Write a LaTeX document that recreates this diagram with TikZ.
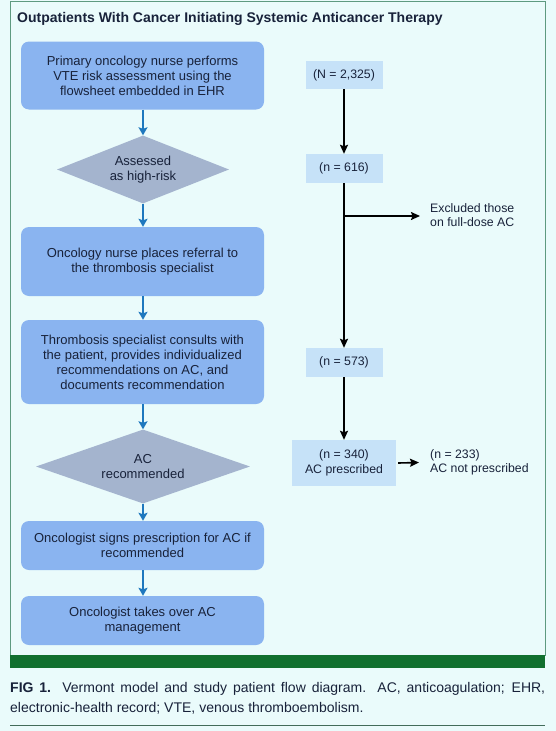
\documentclass[tikz,border=0pt]{standalone}
\usepackage{fontspec}
\setmainfont{Liberation Sans}
\usetikzlibrary{shapes.geometric,arrows.meta}
\definecolor{bgc}{HTML}{EAFBFB}
\definecolor{framec}{HTML}{5E9A80}
\definecolor{greenbar}{HTML}{11702F}
\definecolor{boxc}{HTML}{8AB4F0}
\definecolor{diac}{HTML}{A4B4CE}
\definecolor{nboxc}{HTML}{C6E2F8}
\definecolor{arrc}{HTML}{1E78BE}
\definecolor{txtc}{HTML}{18223A}
\tikzset{
  stepbox/.style={rectangle, rounded corners=8pt, fill=boxc, text=txtc, minimum width=243pt, align=center, inner sep=0pt, font=\fontsize{13}{15}\selectfont},
  decbox/.style={diamond, fill=diac, text=txtc, align=center, inner sep=0pt, font=\fontsize{13}{15}\selectfont},
  nbox/.style={rectangle, fill=nboxc, text=txtc, align=center, inner sep=0pt, font=\fontsize{12.3}{15}\selectfont},
  sidetxt/.style={text=txtc, align=left, anchor=west, inner sep=0pt, font=\fontsize{12.3}{14.5}\selectfont},
  bluearr/.style={draw=arrc, line width=1.6pt, -{Stealth[length=8pt,width=9pt,inset=1.5pt]}},
  blackarr/.style={draw=black, line width=1.6pt, -{Stealth[length=9pt,width=8pt,inset=1.5pt]}},
}
\begin{document}
\begin{tikzpicture}[x=1pt,y=-1pt]
\fill[bgc] (0,0) rectangle (556,731);
\useasboundingbox (0,0) rectangle (556,731);
\draw[framec, line width=1pt] (10,1) rectangle (545,655);
\fill[greenbar] (10,655) rectangle (545,668);
\draw[framec!70!black, line width=1pt] (10,725) -- (545,725);
\node[anchor=west, text=txtc, inner sep=0pt, font=\fontsize{14}{16}\selectfont\bfseries] (title) at (17,19) {Outpatients With Cancer Initiating Systemic Anticancer Therapy};

\node[stepbox, minimum height=68pt] (b1) at (142.5,75.5) {Primary oncology nurse performs\\VTE risk assessment using the\\flowsheet embedded in EHR};
\node[decbox, minimum width=172pt, minimum height=68pt, aspect=2.5] (d1) at (143,169.5) {Assessed\\as high-risk};
\node[stepbox, minimum height=69pt] (b2) at (142.5,261.5) {Oncology nurse places referral to\\the thrombosis specialist};
\node[stepbox, minimum height=84pt] (b3) at (142.5,362) {Thrombosis specialist consults with\\the patient, provides individualized\\recommendations on AC, and\\documents recommendation};
\node[decbox, minimum width=214pt, minimum height=74pt, aspect=2.9] (d2) at (143,466.5) {AC\\recommended};
\node[stepbox, minimum height=49pt] (b4) at (142.5,545.5) {Oncologist signs prescription for AC if\\recommended};
\node[stepbox, minimum height=49pt] (b5) at (142.5,620.5) {Oncologist takes over AC\\management};

\draw[bluearr] (b1.south -| 143,0) -- (d1.north);
\draw[bluearr] (d1.south) -- (b2.north -| 143,0);
\draw[bluearr] (b2.south -| 143,0) -- (b3.north -| 143,0);
\draw[bluearr] (b3.south -| 143,0) -- (d2.north);
\draw[bluearr] (d2.south) -- (b4.north -| 143,0);
\draw[bluearr] (b4.south -| 143,0) -- (b5.north -| 143,0);

\node[nbox, minimum width=77pt, minimum height=28pt] (n1) at (344,75) {(N = 2,325)};
\node[nbox, minimum width=77pt, minimum height=29pt] (n2) at (344,168.5) {(n = 616)};
\node[nbox, minimum width=77pt, minimum height=29pt] (n3) at (344,362.5) {(n = 573)};
\node[nbox, minimum width=104pt, minimum height=46pt] (n4) at (344,463) {(n = 340)\\AC prescribed};
\node[sidetxt] (ex) at (430,215) {Excluded those\\on full-dose AC};
\node[sidetxt] (np) at (430,462.5) {(n = 233)\\AC not prescribed};
\coordinate (br) at (344,216);

\draw[blackarr] (n1.south) -- (n2.north);
\draw[blackarr] (n2.south) -- (n3.north);
\draw[blackarr] (br) -- ([xshift=-10pt]ex.west |- br);
\draw[blackarr] (n3.south) -- (n4.north);
\draw[blackarr] ([xshift=2pt]n4.east) -- ([xshift=-11pt]np.west);

\node[anchor=north west, text=txtc, inner sep=0pt, text width=535pt, align=justify, font=\fontsize{14}{20}\selectfont] (cap) at (10,682) {\textbf{FIG 1.} Vermont model and study patient flow diagram. AC, anticoagulation; EHR,\linebreak electronic-health record; VTE, venous thromboembolism.};
\end{tikzpicture}
\end{document}
